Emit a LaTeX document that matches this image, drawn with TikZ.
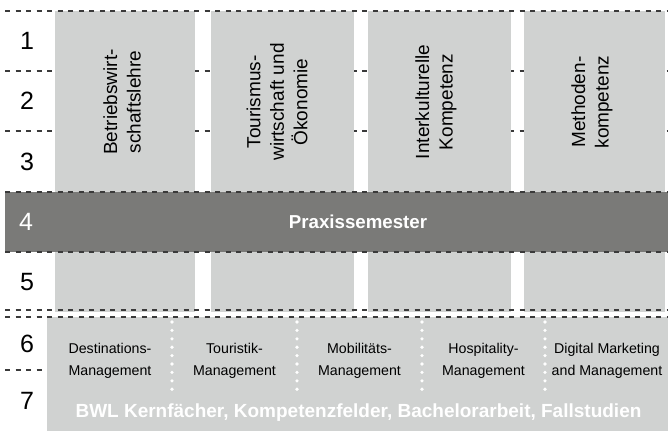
\documentclass[tikz,border=0pt]{standalone}
\usepackage{fontspec}
\setmainfont{Liberation Sans}
\definecolor{lightg}{HTML}{D0D2D1}
\definecolor{darkg}{HTML}{7A7A78}
\definecolor{dashc}{HTML}{3A3A3A}
\begin{document}
\begin{tikzpicture}[x=1bp,y=-1bp,
  dashline/.style={draw=dashc, line width=1.3bp, dash pattern=on 5bp off 5.5bp},
  colbox/.style={fill=lightg},
  numtxt/.style={font=\fontsize{25bp}{30bp}\selectfont, text=black, inner sep=0pt},
  vtxt/.style={rotate=90, align=center, font=\fontsize{19bp}{23.5bp}\selectfont, inner sep=0pt},
  modtxt/.style={align=center, font=\fontsize{14.2bp}{22bp}\selectfont, inner sep=0pt},
  boldw/.style={text=white, font=\bfseries\fontsize{18.7bp}{21bp}\selectfont, inner sep=0pt},
  dotsep/.style={fill=white}
]
\useasboundingbox (0,0) rectangle (668,431);
% background dashed row lines (behind columns)
\draw[dashline] (5,71) -- (668,71);
\draw[dashline] (5,131) -- (668,131);
% columns
\fill[colbox] (55,11) rectangle (195,312);
\fill[colbox] (211,11) rectangle (354,312);
\fill[colbox] (368,11) rectangle (511,312);
\fill[colbox] (524,11) rectangle (665,312);
\draw[dashline] (5,11) -- (668,11);
% column titles
\node[vtxt] (t1) at (122,102) {Betriebswirt-\\schaftslehre};
\node[vtxt] (t2) at (277,102) {Tourismus-\\wirtschaft und\\Ökonomie};
\node[vtxt] (t3) at (436,102) {Interkulturelle\\Kompetenz};
\node[vtxt] (t4) at (592,102) {Methoden-\\kompetenz};
% practical semester band
\fill[darkg] (5,192) rectangle (668,252);
\draw[dashline] (5,192) -- (668,192);
\draw[dashline] (5,252) -- (668,252);
\node[boldw] (praxis) at (358,222) {Praxissemester};
% bottom block
\fill[colbox] (47,317) rectangle (668,431);
\draw[dashline] (5,310) -- (668,310);
\draw[dashline] (5,317) -- (668,317);
\draw[dashline] (5,370) -- (43,370);
\foreach \sx in {172,297,422,545}{
  \foreach \sy in {322,330.4,...,390}{
    \fill[dotsep] (\sx,\sy) circle (1.8bp);
  }
}
\node[modtxt] (m1) at (110,361) {Destinations-\\Management};
\node[modtxt] (m2) at (234.5,361) {Touristik-\\Management};
\node[modtxt] (m3) at (359.5,361) {Mobilitäts-\\Management};
\node[modtxt] (m4) at (483.5,361) {Hospitality-\\Management};
\node[modtxt] (m5) at (607,361) {Digital Marketing\\and Management};
\node[boldw, font=\bfseries\fontsize{19bp}{21bp}\selectfont] (bwl) at (358.5,413) {BWL Kernfächer, Kompetenzfelder, Bachelorarbeit, Fallstudien};
% semester numbers
\node[numtxt] (n1) at (27,41) {1};
\node[numtxt] (n2) at (27,101) {2};
\node[numtxt] (n3) at (27,161.5) {3};
\node[numtxt, text=white] (n4) at (26,222) {4};
\node[numtxt] (n5) at (27,282) {5};
\node[numtxt] (n6) at (27,344) {6};
\node[numtxt] (n7) at (27,401) {7};
\end{tikzpicture}
\end{document}
